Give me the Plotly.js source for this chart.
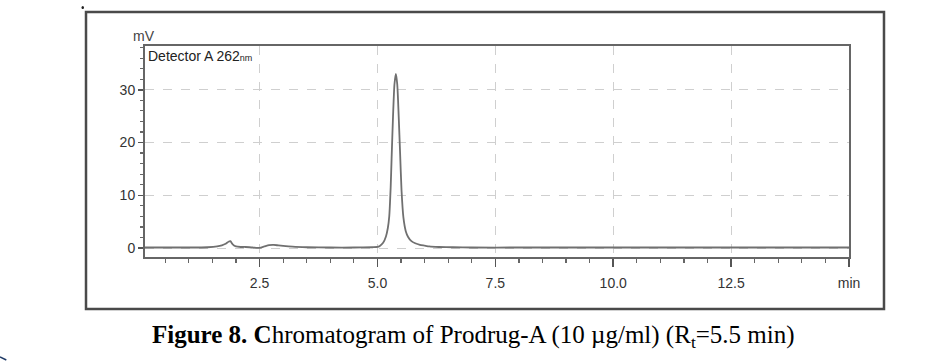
<!DOCTYPE html>
<html>
<head>
<meta charset="utf-8">
<script src="https://cdn.plot.ly/plotly-3.0.1.min.js"></script>
<style>html,body{margin:0;padding:0;background:#fff;}#chart{width:952px;height:363px;}</style>
</head>
<body>
<div id="chart"></div>
<script>
// Retention time (min)
var timeMin = [0.07, 0.5, 1.0, 1.4, 1.6, 1.7, 1.78, 1.84, 1.88, 1.93, 2.0, 2.1, 2.2, 2.35, 2.5, 2.6, 2.7, 2.8, 2.9, 3.0, 3.2, 3.5, 4.0, 4.5, 4.9,
  5.0, 5.05, 5.12, 5.18, 5.22, 5.25, 5.28, 5.30, 5.33, 5.36, 5.39, 5.42, 5.45, 5.48, 5.51, 5.55, 5.60, 5.65, 5.72, 5.80, 5.90, 6.00, 6.10, 6.30,
  6.6, 7.0, 8.0, 9.0, 10.0, 11.0, 12.0, 13.0, 14.0, 15.0];
// Detector A signal (mV)
var signalMV = [0.1, 0.1, 0.1, 0.15, 0.3, 0.5, 0.8, 1.2, 1.3, 0.7, 0.3, 0.2, 0.2, 0.1, 0.05, 0.3, 0.55, 0.6, 0.5, 0.4, 0.25, 0.15, 0.1, 0.1, 0.15,
  0.2, 0.4, 1.0, 2.2, 3.8, 6.0, 11.5, 17.0, 25.0, 31.0, 33.0, 31.0, 25.0, 18.0, 11.0, 5.8, 3.2, 2.1, 1.3, 0.9, 0.6, 0.45, 0.3, 0.2,
  0.15, 0.1, 0.1, 0.1, 0.1, 0.1, 0.1, 0.1, 0.1, 0.1];
// Axis ticks
var xTickVals = [2.5, 5.0, 7.5, 10.0, 12.5, 15.0];
var xTickText = ["2.5", "5.0", "7.5", "10.0", "12.5", "min"];
var yTickVals = [0, 10, 20, 30];
var yTickText = ["0", "10", "20", "30"];

var axisFont = {family: "Liberation Sans Narrow, Liberation Sans, Arial", size: 14, color: "#333"};

var trace = {
  x: timeMin, y: signalMV, type: "scatter", mode: "lines",
  line: {color: "#707070", width: 1.8, shape: "spline", smoothing: 0.6},
  hoverinfo: "skip"
};

var layout = {
  width: 952, height: 363,
  margin: {l: 145, r: 103, t: 46, b: 106},
  paper_bgcolor: "#fff", plot_bgcolor: "#fff",
  showlegend: false,
  xaxis: {
    range: [0.07, 15], tickvals: xTickVals, ticktext: xTickText,
    ticks: "outside", ticklen: 8, tickwidth: 1.5, tickcolor: "#555",
    showline: true, linecolor: "#666", linewidth: 2, mirror: true,
    showgrid: true, gridcolor: "#cfcfcf", griddash: "dash", gridwidth: 1,
    zeroline: false, tickfont: axisFont, ticklabelstandoff: 4,
    minor: {dtick: 0.5, tick0: 0, ticks: "outside", ticklen: 4, tickwidth: 1.2, tickcolor: "#666", showgrid: false}
  },
  yaxis: {
    range: [-1.7, 38.3], tickvals: yTickVals, ticktext: yTickText,
    ticks: "outside", ticklen: 5, tickwidth: 1.5, tickcolor: "#555",
    showline: true, linecolor: "#666", linewidth: 2, mirror: true,
    showgrid: true, gridcolor: "#cfcfcf", griddash: "dash", gridwidth: 1,
    zeroline: false, tickfont: axisFont,
    minor: {dtick: 2, tick0: 0, ticks: "outside", ticklen: 3, tickwidth: 1.2, tickcolor: "#666", showgrid: false}
  },
  shapes: [
    {type: "rect", xref: "paper", yref: "paper", x0: -0.0838, x1: 1.0497, y0: -0.2464, y1: 1.1611,
     line: {color: "#4a4a4a", width: 2.5}, fillcolor: "rgba(0,0,0,0)", layer: "below"},
    {type: "rect", xref: "paper", yref: "paper", x0: -0.0895, x1: -0.0875, y0: 1.178, y1: 1.186,
     line: {color: "#222", width: 1}, fillcolor: "#222"},
    {type: "line", xref: "paper", yref: "paper", x0: -0.206, x1: -0.197, y0: -0.474, y1: -0.488,
     line: {color: "#1f3a66", width: 1.5}}
  ],
  annotations: [
    {xref: "paper", yref: "paper", x: -0.002, y: 1.0, xanchor: "center", yanchor: "bottom", showarrow: false,
     text: "mV", font: {family: "Liberation Sans Narrow, Liberation Sans, Arial", size: 14, color: "#444"}, yshift: 0},
    {xref: "paper", yref: "paper", x: 0.002, y: 1.0, xanchor: "left", yanchor: "top", showarrow: false,
     text: "Detector A 262<span style='font-size:9px'>nm</span>", font: {family: "Liberation Sans Narrow, Liberation Sans, Arial", size: 14, color: "#222"}},
    {xref: "paper", yref: "paper", x: 0.467, y: -0.379, xanchor: "center", yanchor: "middle", showarrow: false,
     text: "<b>Figure 8. C</b>hromatogram of Prodrug-A (10 µg/ml) (R<sub>t</sub>=5.5 min)",
     font: {family: "Liberation Serif, Times New Roman, serif", size: 25, color: "#000"}}
  ]
};

Plotly.newPlot("chart", [trace], layout, {staticPlot: true, displayModeBar: false});
</script>
</body>
</html>
